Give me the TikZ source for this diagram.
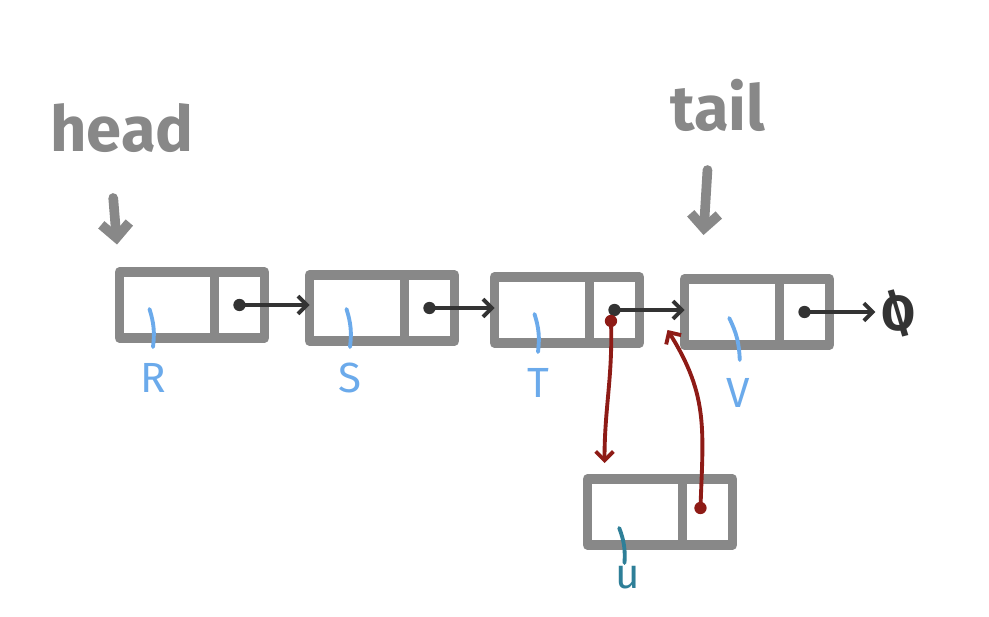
\documentclass[tikz,border=0pt]{standalone}
\usepackage{fontspec}
\setsansfont{Fira Sans}
\usepackage{amssymb}
\usepackage{tikz}
\usetikzlibrary{arrows.meta, positioning}

\definecolor{boxgray}{HTML}{888888}
\definecolor{linkdark}{HTML}{333333}
\definecolor{insred}{HTML}{8E1B16}
\definecolor{keyblue}{HTML}{6BAAEB}
\definecolor{newteal}{HTML}{2E7F98}

\tikzset{
    cell/.style={draw=boxgray, line width=5.5pt, line join=round,
        minimum height=1.32cm, inner sep=0pt, outer sep=0pt},
    datacell/.style={cell, minimum width=1.9cm},
    nextcell/.style={cell, minimum width=1cm},
    link/.style={linkdark, line width=2.2pt, line cap=round,
        -{Straight Barb[length=5pt, width=10pt, line width=2.2pt]}},
    newlink/.style={link, insred},
    marker/.style={boxgray, line width=5.5pt, line cap=round,
        -{Straight Barb[length=8pt, width=16pt, line width=5.5pt]}},
    tag/.style={font=\sffamily\bfseries\fontsize{36}{38}\selectfont, text=boxgray, inner sep=0pt},
    key/.style={font=\sffamily\fontsize{24}{26}\selectfont, text=keyblue, inner sep=0pt},
    tick/.style={keyblue, line width=2.2pt, line cap=round}
}

\begin{document}
\begin{tikzpicture}[x=0.02cm, y=-0.02cm]
    \useasboundingbox[fill=white] (0,0) rectangle (989,617);

    % The list cells
    \node[datacell] (R) at (167,305) {};
    \node[nextcell, right=0pt of R] (Rp) {};
    \node[datacell] (S) at (357,308) {};
    \node[nextcell, right=0pt of S] (Sp) {};
    \node[datacell] (T) at (542,310) {};
    \node[nextcell, right=0pt of T] (Tp) {};
    \node[datacell] (V) at (732,312) {};
    \node[nextcell, right=0pt of V] (Vp) {};

    % New cell
    \node[datacell] (U) at (635,512) {};
    \node[nextcell, right=0pt of U] (Up) {};

    % End of list
    \node[text=linkdark, inner sep=0pt, font=\sffamily\bfseries\fontsize{28}{30}\selectfont] (null) at (898,313) {\scalebox{-1}[1]{Ø}};

    % Next pointers
    \foreach \from/\to in {Rp/S, Sp/T, Tp/V} {
        \fill[linkdark] (\from.center) circle (3.5pt);
        \draw[link] (\from.center) -- (\from.center -| \to.west);
    }
    \fill[linkdark] (Vp.center) circle (3.5pt);
    \draw[link] (Vp.center) -- ([xshift=-3pt]Vp.center -| null.west);

    % Insertion
    \fill[insred] ([xshift=-2pt, yshift=-0.22cm]Tp.center) circle (3.5pt);
    \draw[newlink] ([xshift=-2pt, yshift=-0.22cm]Tp.center)
        to[out=-88, in=90] ([xshift=0.34cm, yshift=0.32cm]U.north west);
    \fill[insred] ([xshift=-4pt, yshift=0.08cm]Up.center) circle (3.5pt);
    \draw[newlink] ([xshift=-4pt, yshift=0.08cm]Up.center)
        to[out=88, in=-58, looseness=1.1] ([xshift=-0.34cm, yshift=-0.36cm]V.west);

    % Keys
    \node[key] (Rk) at (153,378) {R};
    \node[key] (Sk) at (350,378) {S};
    \node[key] (Tk) at (538,383) {T};
    \node[key] (Vk) at (738,393) {V};
    \node[key, text=newteal] (Uk) at (628,578) {u};
    \foreach \k in {Rk, Sk, Tk} {
        \draw[tick] ([xshift=-2pt, yshift=1.38cm]\k.center) to[bend left=12] ([yshift=0.62cm]\k.center);
    }
    \draw[tick] ([xshift=-5pt, yshift=1.5cm]Vk.center) to[bend left=12] ([xshift=1pt, yshift=0.66cm]Vk.center);
    \draw[tick, newteal] ([xshift=-5pt, yshift=1.0cm]Uk.center) to[bend left=12] ([xshift=-2pt, yshift=0.3cm]Uk.center);

    % Head and tail
    \node[tag] (head) at (122,128) {head};
    \node[tag] (tail) at (718,105) {tail};
    \draw[marker] ([xshift=-5pt, yshift=-1.4cm]head.center) -- ([xshift=-0.05cm, yshift=0.55cm]R.north west);
    \draw[marker] ([xshift=-6pt, yshift=-1.3cm]tail.center) -- ([xshift=0.38cm, yshift=0.88cm]V.north west);
\end{tikzpicture}
\end{document}
